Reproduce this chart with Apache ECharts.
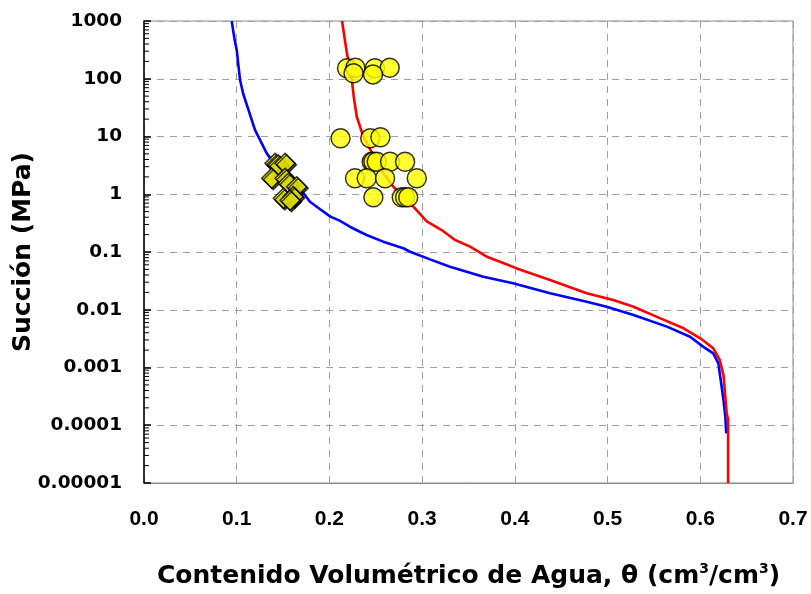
<!DOCTYPE html>
<html>
<head>
<meta charset="utf-8">
<script src="https://cdn.jsdelivr.net/npm/echarts@6/dist/echarts.min.js"></script>
<style>
  html, body { margin: 0; padding: 0; background: #ffffff; }
  #chart { width: 811px; height: 594px; }
</style>
</head>
<body>
<div id="chart"></div>
<script>
// Water retention curves: volumetric water content vs. suction (log scale)
const yTickLabels = ['0.00001', '0.0001', '0.001', '0.01', '0.1', '1', '10', '100', '1000'];
const xTickLabels = ['0.0', '0.1', '0.2', '0.3', '0.4', '0.5', '0.6', '0.7'];

// Blue fitted curve [theta, suction MPa]
const blueCurve = [
  [0.0946, 1000], [0.0975, 500], [0.100, 315], [0.1036, 95], [0.107, 55], [0.111, 35], [0.1197, 13],
  [0.1324, 5.1], [0.143, 3.0], [0.155, 1.8], [0.165, 1.25], [0.172, 1.04],
  [0.179, 0.74], [0.190, 0.55], [0.201, 0.41], [0.211, 0.35], [0.222, 0.274], [0.240, 0.197],
  [0.258, 0.151], [0.2797, 0.116], [0.287, 0.101], [0.3085, 0.0746], [0.330, 0.0557],
  [0.366, 0.0374], [0.398, 0.0287], [0.438, 0.0193], [0.4775, 0.0138], [0.499, 0.0113],
  [0.528, 0.0081], [0.564, 0.0051], [0.589, 0.0034], [0.603, 0.0023], [0.614, 0.00176],
  [0.6195, 0.00118], [0.622, 0.00061], [0.625, 0.000274], [0.627, 0.00014], [0.628, 0.0000724]
];

// Red fitted curve [theta, suction MPa]
const redCurve = [
  [0.2136, 1000], [0.2185, 300], [0.224, 100], [0.2265, 45], [0.2295, 22], [0.2366, 9.9], [0.244, 6.0],
  [0.251, 3.4], [0.260, 2.1], [0.269, 1.35], [0.283, 0.8], [0.2905, 0.61],
  [0.305, 0.34], [0.321, 0.24], [0.3355, 0.161], [0.3517, 0.124], [0.3697, 0.083],
  [0.384, 0.068], [0.402, 0.052], [0.438, 0.0327], [0.4775, 0.0193], [0.506, 0.0148],
  [0.528, 0.0113], [0.557, 0.0071], [0.582, 0.00478], [0.600, 0.0032], [0.614, 0.00215],
  [0.621, 0.00135], [0.625, 0.00074], [0.6285, 0.000161], [0.630, 0.000123], [0.630, 0.00001]
];

// Measured points (circles)
const circlePoints = [
  [0.219, 152], [0.228, 155], [0.249, 152], [0.265, 155], [0.226, 124], [0.247, 119],
  [0.212, 9.3], [0.244, 9.3], [0.255, 9.7],
  [0.2456, 3.66], [0.2474, 3.66], [0.251, 3.66], [0.2654, 3.66], [0.2816, 3.66],
  [0.2276, 1.89], [0.2402, 1.89], [0.260, 1.89], [0.2942, 1.89],
  [0.2474, 0.885], [0.278, 0.885], [0.2816, 0.885], [0.285, 0.885]
];

// Measured points (diamonds)
const diamondPoints = [
  [0.1413, 3.43], [0.1449, 3.2], [0.1521, 3.43], [0.1378, 1.89], [0.1521, 1.89],
  [0.1557, 1.55], [0.1647, 1.35], [0.1503, 0.85], [0.161, 0.91], [0.1575, 0.79]
];

// Log minor tick positions (2..9 within each decade)
const minorTickValues = [];
for (let e = -5; e < 3; e++) {
  for (let k = 2; k <= 9; k++) minorTickValues.push([0, k * Math.pow(10, e)]);
}

const chart = echarts.init(document.getElementById('chart'), null, { renderer: 'canvas' });

chart.setOption({
  animation: false,
  backgroundColor: '#ffffff',
  grid: {
    left: 144, right: 18, top: 21, bottom: 111,
    outerBoundsMode: 'none',
    containLabel: false,
    show: true, borderColor: '#8c8c8c', borderWidth: 1, backgroundColor: 'transparent'
  },
  xAxis: {
    type: 'value',
    min: 0, max: 0.7, interval: 0.1,
    name: '{t|Contenido Volumétrico de Agua, θ (cm}{s|3}{t|/cm}{s|3}{t|)}',
    nameLocation: 'middle',
    nameGap: 79,
    nameMoveOverlap: false,
    nameTextStyle: {
      rich: {
        t: { fontFamily: 'DejaVu Sans', fontWeight: 'bold', fontSize: 25, color: '#000' },
        s: { fontFamily: 'DejaVu Sans', fontWeight: 'bold', fontSize: 14, color: '#000', verticalAlign: 'top', padding: [0, 0, 14, 0] }
      }
    },
    axisLine: { show: true, lineStyle: { color: '#8c8c8c', width: 1 } },
    axisTick: { show: false },
    axisLabel: {
      margin: 26,
      fontFamily: 'Liberation Sans', fontWeight: 'bold', fontSize: 21, color: '#000',
      formatter: function (v) {
        const i = Math.round(v * 10);
        return xTickLabels[i] !== undefined ? xTickLabels[i] : '';
      }
    },
    splitLine: { show: true, lineStyle: { color: '#a0a0a0', type: [7, 6], width: 1 } }
  },
  yAxis: {
    type: 'log',
    logBase: 10,
    min: 0.00001, max: 1000,
    name: 'Succión (MPa)',
    nameLocation: 'middle',
    nameGap: 108,
    nameMoveOverlap: false,
    nameTextStyle: { fontFamily: 'DejaVu Sans', fontWeight: 'bold', fontSize: 25, color: '#000' },
    axisLine: { show: true, lineStyle: { color: '#000', width: 1.5 } },
    axisTick: { show: true, inside: true, length: 7, lineStyle: { color: '#000', width: 1.5 } },
    axisLabel: {
      margin: 22,
      fontFamily: 'DejaVu Sans', fontWeight: 'bold', fontSize: 18.5, color: '#000',
      formatter: function (v) {
        const i = Math.round(Math.log10(v)) + 5;
        return yTickLabels[i] !== undefined ? yTickLabels[i] : '';
      }
    },
    splitLine: { show: true, lineStyle: { color: '#a0a0a0', type: [7, 6], width: 1 } }
  },
  series: [
    {
      type: 'custom',
      name: 'minorTicks',
      silent: true,
      clip: false,
      z: 1,
      data: minorTickValues,
      renderItem: function (params, api) {
        const p = api.coord([api.value(0), api.value(1)]);
        return {
          type: 'line',
          shape: { x1: p[0], y1: p[1], x2: p[0] + 5, y2: p[1] },
          style: { stroke: '#000', lineWidth: 1 }
        };
      }
    },
    {
      type: 'line',
      data: blueCurve,
      showSymbol: false,
      symbol: 'none',
      lineStyle: { color: '#0000ff', width: 2.6 },
      z: 3
    },
    {
      type: 'line',
      data: redCurve,
      showSymbol: false,
      symbol: 'none',
      lineStyle: { color: '#ff0000', width: 2.6 },
      z: 4
    },
    {
      type: 'scatter',
      data: diamondPoints,
      symbol: 'diamond',
      symbolSize: 20,
      itemStyle: {
        color: '#ffff00', borderColor: '#000', borderWidth: 1.5,
        shadowColor: 'rgba(0,0,0,0.85)', shadowOffsetX: 1.5, shadowOffsetY: 1.5, shadowBlur: 0
      },
      z: 5
    },
    {
      type: 'scatter',
      data: circlePoints,
      symbol: 'circle',
      symbolSize: 19,
      itemStyle: { color: '#ffff00', borderColor: '#000', borderWidth: 1.5 },
      z: 6
    }
  ]
});
</script>
</body>
</html>
